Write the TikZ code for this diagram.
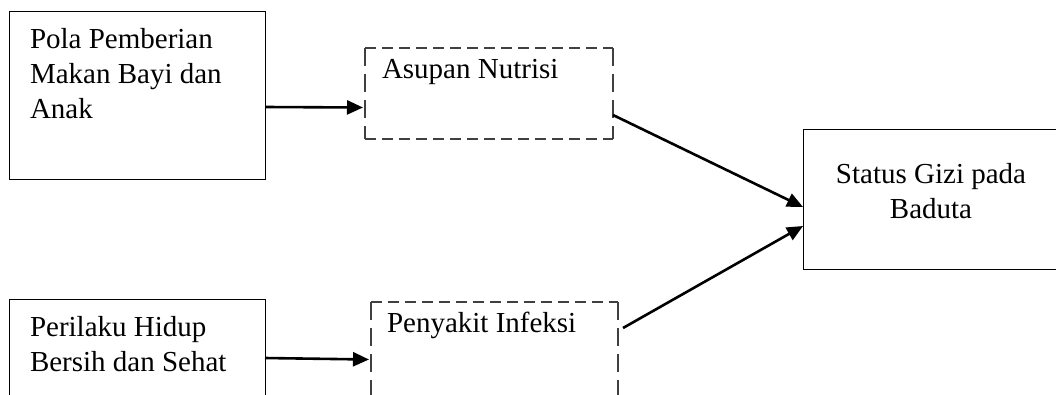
\documentclass[tikz,border=0pt]{standalone}
\usepackage{fontspec}
\setmainfont{Liberation Serif}
\usetikzlibrary{arrows.meta,calc}
\begin{document}
\begin{tikzpicture}[x=1pt,y=-1pt,
  box/.style={draw=black,line width=1pt,anchor=north west,inner sep=0pt,outer sep=0pt},
  dbox/.style={anchor=north west,inner sep=0pt,outer sep=0pt},
  hdash/.style={draw=black!75,line width=1.1pt,dash pattern=on 11pt off 6pt},
  vdash/.style={draw=black!75,line width=1.1pt,dash pattern=on 18pt off 8pt},
  txt/.style={font=\fontsize{29}{35}\selectfont,inner sep=0pt,outer sep=0pt},
  arr/.style={line width=2.6pt,-{Triangle[length=16pt,width=14pt]}}]
\useasboundingbox (0,0) rectangle (1056,394);
\clip (0,0) rectangle (1056,394);
\fill[white] (0,0) rectangle (1056,394);
% boxes
\node[box,minimum width=256pt,minimum height=168pt] (b1) at (9,11) {};
\node[dbox,minimum width=248pt,minimum height=91pt] (b2) at (365,48) {};
\node[box,minimum width=270pt,minimum height=140pt] (b3) at (803,129) {};
\node[box,minimum width=256pt,minimum height=111pt] (b4) at (9,299) {};
\node[dbox,minimum width=247pt,minimum height=108pt] (b5) at (371,302) {};
% dashed borders
\draw[hdash] (b2.north west) -- (b2.north east);
\draw[hdash] (b2.south west) -- (b2.south east);
\draw[vdash] (b2.north west) -- (b2.south west);
\draw[vdash] (b2.north east) -- (b2.south east);
\draw[hdash] (b5.north west) -- (b5.north east);
\draw[vdash] (b5.north west) -- (b5.south west);
\draw[vdash] (b5.north east) -- (b5.south east);
% texts (base anchor = baseline of last line)
\node[txt,anchor=base west,align=left] (t1) at (30,118) {Pola Pemberian\\Makan Bayi dan\\Anak};
\node[txt,anchor=base west] (t2) at (382,78) {Asupan Nutrisi};
\node[txt,anchor=base,align=center] (t3) at (931,218) {Status Gizi pada\\Baduta};
\node[txt,anchor=base west,align=left] (t4) at (30,371) {Perilaku Hidup\\Bersih dan Sehat};
\node[txt,anchor=base west] (t5) at (387,332) {Penyakit Infeksi};
% arrows
\draw[arr] ($(b1.east)+(0,12)$) -- ($(b2.west)+(-2,14)$);
\draw[arr] ($(b4.east)+(0,3.5)$) -- ($(b5.west)+(-2,3.5)$);
\draw[arr] ($(b2.east)+(0,21.5)$) -- ($(b3.west)+(0,8)$);
\draw[arr] ($(b5.east)+(5,-28)$) -- ($(b3.west)+(0,27)$);
\end{tikzpicture}
\end{document}
